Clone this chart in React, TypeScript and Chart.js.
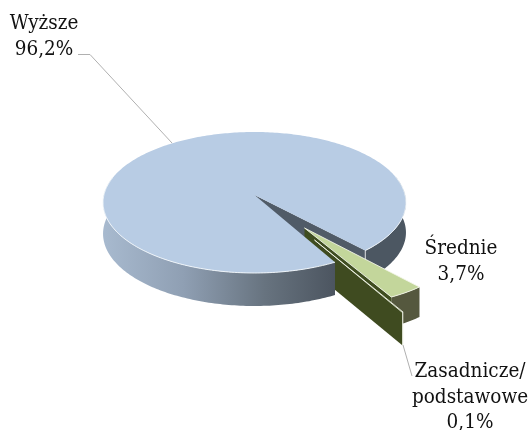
import React, { useEffect, useRef } from "react";
import { Chart, registerables } from "chart.js";

Chart.register(...registerables);

const categories = ["Wyższe", "Średnie", "Zasadnicze/\npodstawowe"];
const shares = [96.2, 3.7, 0.1];
const topColours = ["#b8cce4", "#c3d69b", "#4f6228"];

const FONT = '20.5px "DejaVu Serif Condensed", "Liberation Serif", serif';
const RAD = Math.PI / 180;

type Pt = [number, number];

const piePlugin = {
  id: "pie3d",
  beforeDatasetsDraw(chart: any) {
    const ctx: CanvasRenderingContext2D = chart.ctx;
    const arcs = chart.getDatasetMeta(0).data;
    const cx = arcs[0].x;
    const cy = arcs[0].y;
    const R = arcs[0].outerRadius;
    const rx = R * 0.7723;
    const ry = R * 0.3574;
    const p = 0.1064;

    const project = (a: number): Pt => {
      const u = Math.cos(a);
      const v = Math.sin(a);
      const w = 1 - p * v;
      return [cx + (rx * u) / w, cy + (ry * v) / w];
    };
    const depth = (a: number) => 31 + 2 * Math.sin(a);
    const fillPath = (pts: Pt[], fill: string | CanvasGradient, stroke?: string) => {
      ctx.beginPath();
      pts.forEach(([x, y], i) => (i ? ctx.lineTo(x, y) : ctx.moveTo(x, y)));
      ctx.closePath();
      ctx.fillStyle = fill;
      ctx.fill();
      if (stroke) {
        ctx.strokeStyle = stroke;
        ctx.lineWidth = 1;
        ctx.stroke();
      }
    };
    const sample = (a0: number, a1: number, fn: (a: number) => Pt) => {
      const n = Math.max(2, Math.ceil(Math.abs(a1 - a0) / RAD));
      const out: Pt[] = [];
      for (let i = 0; i <= n; i++) out.push(fn(a0 + ((a1 - a0) * i) / n));
      return out;
    };

    const bigStart = arcs[0].startAngle;
    const bigEnd = arcs[0].endAngle;

    // far right wall of the large slice
    const wallA = sample(bigEnd - 2 * Math.PI - 1.1, bigEnd - 2 * Math.PI, project);
    fillPath(
      [...wallA, ...wallA.map((pt): Pt => [pt[0], pt[1] + 30]).reverse()],
      "#4c5762"
    );

    // cut face of the large slice, seen through the gap
    const notch = project(bigEnd);
    fillPath(
      [[cx, cy], notch, [notch[0], notch[1] + 30], [cx, cy + 30]],
      "#505b67"
    );
    ctx.strokeStyle = "rgba(255,255,255,0.75)";
    ctx.lineWidth = 1;
    ctx.beginPath();
    ctx.moveTo(notch[0], notch[1]);
    ctx.lineTo(notch[0], notch[1] + 30);
    ctx.stroke();

    // exploded small slices
    const slices = [
      { el: arcs[1], dx: 50, dy: 33, kx: 13.3, ky: 5, srx: 150, sry: 73.5, wall: "#55583e", cut: "#3f4d20", d: 30 },
      { el: arcs[2], dx: 60, dy: 45, kx: 13.3, ky: 5, srx: 153, sry: 76.7, wall: "#8a8f7a", cut: "#3f4b20", d: 33 },
    ];
    slices.forEach((s, i) => {
      const apex: Pt = [cx + s.dx, cy + s.dy];
      const rim = (a: number): Pt => [
        apex[0] + s.kx + s.srx * Math.cos(a),
        apex[1] + s.ky + s.sry * Math.sin(a),
      ];
      const outer = sample(s.el.startAngle, s.el.endAngle, rim);
      fillPath(
        [...outer, ...outer.map((pt): Pt => [pt[0], pt[1] + s.d]).reverse()],
        s.wall,
        i === 0 ? undefined : "rgba(235,238,225,0.9)"
      );
      const end = rim(s.el.endAngle);
      fillPath(
        [apex, end, [end[0], end[1] + s.d], [apex[0], apex[1] + s.d]],
        s.cut
      );
      fillPath([apex, ...outer], topColours[i + 1], "rgba(245,247,235,0.85)");
    });

    // front wall of the large slice
    const frontEnd = Math.PI * 1.08;
    const frontTop = sample(bigStart, frontEnd, project);
    const grad = ctx.createLinearGradient(cx - rx * 1.01, 0, project(bigStart)[0], 0);
    grad.addColorStop(0, "#a8bacf");
    grad.addColorStop(0.35, "#8f9fb3");
    grad.addColorStop(0.7, "#67737f");
    grad.addColorStop(1, "#4c5560");
    const n = frontTop.length - 1;
    fillPath(
      [
        ...frontTop,
        ...frontTop
          .map((pt, i): Pt => {
            const a = bigStart + ((frontEnd - bigStart) * i) / n;
            return [pt[0], pt[1] + depth(a)];
          })
          .reverse(),
      ],
      grad
    );

    // top face of the large slice
    const top = sample(bigStart, bigEnd, project);
    fillPath([[cx, cy], ...top], topColours[0]);
    ctx.beginPath();
    const frontRim = sample(bigStart, frontEnd, project);
    frontRim.forEach(([x, y], i) => (i ? ctx.lineTo(x, y) : ctx.moveTo(x, y)));
    ctx.strokeStyle = "rgba(240,245,250,0.95)";
    ctx.lineWidth = 1;
    ctx.stroke();
    const backRim = sample(bigEnd - 2 * Math.PI - 1.1, bigEnd - 2 * Math.PI, project);
    ctx.beginPath();
    backRim.forEach(([x, y], i) => (i ? ctx.lineTo(x, y) : ctx.moveTo(x, y)));
    ctx.stroke();

    return false;
  },
  afterDraw(chart: any) {
    const ctx: CanvasRenderingContext2D = chart.ctx;
    ctx.save();
    ctx.strokeStyle = "#b0b0b0";
    ctx.lineWidth = 1;
    ctx.beginPath();
    ctx.moveTo(78, 54.5);
    ctx.lineTo(90, 54.5);
    ctx.lineTo(172, 143);
    ctx.moveTo(403, 345);
    ctx.lineTo(412, 376);
    ctx.stroke();

    ctx.fillStyle = "#111";
    ctx.font = FONT;
    ctx.textAlign = "center";
    ctx.textBaseline = "middle";
    const anchors: Pt[] = [
      [44, 24],
      [461, 249],
      [470, 372],
    ];
    categories.forEach((name, i) => {
      const lines = [...name.split("\n"), `${shares[i].toFixed(1).replace(".", ",")}%`];
      lines.forEach((line, j) => ctx.fillText(line, anchors[i][0], anchors[i][1] + j * 25.5));
    });
    ctx.restore();
  },
};

export default function App() {
  const ref = useRef<HTMLCanvasElement>(null);
  useEffect(() => {
    document.body.style.margin = "0";
    const chart = new Chart(ref.current!, {
      type: "pie",
      data: {
        labels: categories,
        datasets: [{ data: shares, backgroundColor: topColours, borderWidth: 0 }],
      },
      options: {
        responsive: false,
        animation: false,
        rotation: 151,
        layout: { padding: { right: 23, bottom: 40 } },
        plugins: { legend: { display: false }, tooltip: { enabled: false } },
      },
      plugins: [piePlugin],
    });
    return () => chart.destroy();
  }, []);
  return (
    <div style={{ width: 532, height: 430 }}>
      <canvas ref={ref} width={532} height={430} style={{ display: "block" }} />
    </div>
  );
}
